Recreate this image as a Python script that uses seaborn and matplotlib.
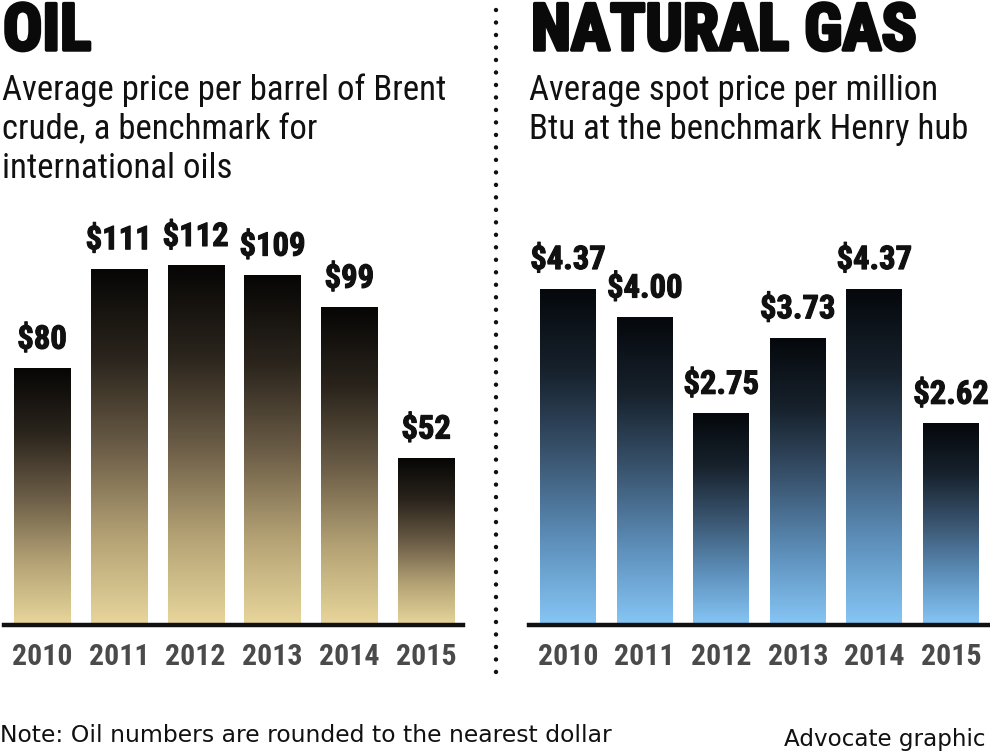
import numpy as np
import matplotlib
matplotlib.use("Agg")
import matplotlib.pyplot as plt
from matplotlib import font_manager
from matplotlib.colors import LinearSegmentedColormap
from matplotlib.lines import Line2D
import matplotlib.patheffects as pe
import seaborn as sns

sns.set_style("white")

#data
years = ["2010", "2011", "2012", "2013", "2014", "2015"]
oil_price = [80, 111, 112, 109, 99, 52]
oil_labels = ["$80", "$111", "$112", "$109", "$99", "$52"]
gas_price = [4.37, 4.00, 2.75, 3.73, 4.37, 2.62]
gas_labels = ["$4.37", "$4.00", "$2.75", "$3.73", "$4.37", "$2.62"]

oil_sub = ["Average price per barrel of Brent", "crude, a benchmark for", "international oils"]
gas_sub = ["Average spot price per million", "Btu at the benchmark Henry hub"]

#pick a narrow font if there is one
names = {f.name for f in font_manager.fontManager.ttflist}
narrow = "DejaVu Sans"
for cand in ["Roboto Condensed", "Liberation Sans Narrow", "Open Sans Condensed", "DejaVu Sans"]:
    if cand in names:
        narrow = cand
        break

oil_cmap = LinearSegmentedColormap.from_list("oil", ["#e8d69c", "#b3a174", "#6a5c46", "#2a241c", "#070605"])
gas_cmap = LinearSegmentedColormap.from_list("gas", ["#86c6f6", "#5d8fba", "#3a5570", "#17222d", "#05080c"])

W, H = 990, 753
fig = plt.figure(figsize=(9.9, 7.53), dpi=100)

def px(x, y):
    return x / W, 1 - y / H

ax_oil = fig.add_axes([4 / W, (H - 625) / H, 459 / W, 425 / H])
ax_gas = fig.add_axes([529 / W, (H - 625) / H, 461 / W, 425 / H])

bold_fx = [pe.withStroke(linewidth=0.8, foreground="#111111")]


def draw_panel(ax, values, labels, cmap, ymax, xlim):
    sns.barplot(x=years, y=values, ax=ax, width=0.73, color="#777777", saturation=1)
    #gradient fill per bar
    grad = np.linspace(0, 1, 256).reshape(-1, 1)
    for patch in ax.patches:
        x0 = patch.get_x()
        w = patch.get_width()
        h = patch.get_height()
        patch.set_facecolor("none")
        patch.set_edgecolor("none")
        im = ax.imshow(grad, cmap=cmap, origin="lower", aspect="auto",
                       extent=[x0, x0 + w, 0, h], zorder=2)
        im.set_clip_path(patch)
    for i, (v, lab) in enumerate(zip(values, labels)):
        ax.annotate(lab, (i, v), xytext=(0, 9), textcoords="offset points",
                    ha="center", va="bottom", fontsize=23.5, fontweight="bold",
                    family=narrow, color="#111111", path_effects=bold_fx)
    ax.set_xlim(*xlim)
    ax.set_ylim(0, ymax)
    ax.set_ylabel("")
    ax.set_yticks([])
    for s in ["top", "left", "right"]:
        ax.spines[s].set_visible(False)
    ax.spines["bottom"].set_linewidth(3.2)
    ax.spines["bottom"].set_color("#111111")
    ax.tick_params(axis="x", length=0, pad=13)
    for t in ax.get_xticklabels():
        t.set_fontsize(21.5)
        t.set_fontweight("bold")
        t.set_family(narrow)
        t.set_color("#4a4a4a")
    ax.set_facecolor("none")


draw_panel(ax_oil, oil_price, oil_labels, oil_cmap, 132.4, (-0.495, 5.48))
draw_panel(ax_gas, gas_price, gas_labels, gas_cmap, 5.52, (-0.51, 5.51))

#titles
title_fx = [pe.withStroke(linewidth=2.5, foreground="#0a0a0a")]
fig.text(*px(3, 50), "OIL", fontsize=47, fontweight="bold", family=narrow,
         color="#0a0a0a", path_effects=title_fx)
fig.text(*px(531, 50), "NATURAL GAS", fontsize=47, fontweight="bold", family=narrow,
         color="#0a0a0a", path_effects=title_fx)
for i, line in enumerate(oil_sub):
    fig.text(*px(2, 100 + 39 * i), line, fontsize=25, family=narrow, color="#111111")
for i, line in enumerate(gas_sub):
    fig.text(*px(529, 100 + 39 * i), line, fontsize=25, family=narrow, color="#111111")

#dotted divider
fig.add_artist(Line2D([496 / W, 496 / W], [1 - 10 / H, 1 - 680 / H], transform=fig.transFigure,
                      color="#111111", linewidth=3.2, linestyle=(0, (0.01, 2.8)),
                      dash_capstyle="round"))

#footer
fig.text(*px(0, 742), "Note: Oil numbers are rounded to the nearest dollar", fontsize=16.9,
         family="DejaVu Sans", color="#111111")
fig.text(*px(985, 746), "Advocate graphic", fontsize=16.6, family="DejaVu Sans",
         color="#111111", ha="right")

fig.savefig("out.png", dpi=100)
